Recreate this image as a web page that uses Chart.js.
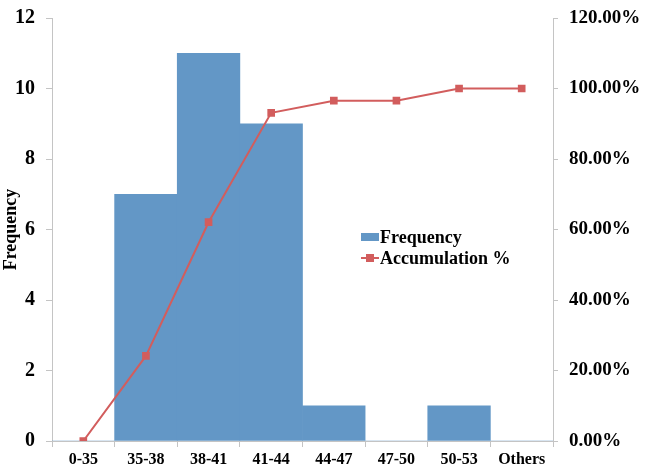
<!DOCTYPE html>
<html>
<head>
<meta charset="utf-8">
<script src="https://cdn.jsdelivr.net/npm/chart.js@4/dist/chart.umd.min.js"></script>
<style>
  html, body { margin: 0; padding: 0; background: #fff; }
  #wrap { width: 645px; height: 469px; position: relative; }
</style>
</head>
<body>
<div id="wrap"><canvas id="myChart"></canvas></div>
<script>
const categories = ["0-35", "35-38", "38-41", "41-44", "44-47", "47-50", "50-53", "Others"];
const frequency = [0, 7, 11, 9, 1, 0, 1, 0];
const accumulation = [0, 24.14, 62.07, 93.10, 96.55, 96.55, 100, 100];
const leftTicks = [0, 2, 4, 6, 8, 10, 12];
const rightTicks = [0, 20, 40, 60, 80, 100, 120];

const serif = "'Liberation Serif', 'Times New Roman', serif";
const axisColor = "#c4c4c4";

// legend sits inside the plot, so draw it by hand
const insideLegend = {
  id: "insideLegend",
  afterDraw(chart) {
    const ctx = chart.ctx;
    const x = 361;
    const y = 237;
    ctx.save();
    ctx.font = "bold 18px " + serif;
    ctx.textBaseline = "middle";

    ctx.fillStyle = chart.data.datasets[0].backgroundColor;
    ctx.fillRect(x, y - 4, 18, 8);
    ctx.fillStyle = "#000";
    ctx.fillText(chart.data.datasets[0].label, x + 19, y + 1);

    const y2 = y + 21;
    ctx.strokeStyle = chart.data.datasets[1].borderColor;
    ctx.lineWidth = 2;
    ctx.beginPath();
    ctx.moveTo(x, y2);
    ctx.lineTo(x + 18, y2);
    ctx.stroke();
    ctx.fillStyle = chart.data.datasets[1].borderColor;
    ctx.fillRect(x + 5, y2 - 4, 8, 8);
    ctx.fillStyle = "#000";
    ctx.fillText(chart.data.datasets[1].label, x + 19, y2 + 1);
    ctx.restore();
  },
};

const data = {
  labels: categories,
  datasets: [
    {
      type: "bar",
      label: "Frequency",
      data: frequency,
      backgroundColor: "#6397c6",
      barPercentage: 1,
      categoryPercentage: 1,
      yAxisID: "y",
      order: 2,
    },
    {
      type: "line",
      label: "Accumulation %",
      data: accumulation,
      borderColor: "#d25d5d",
      backgroundColor: "#d25d5d",
      borderWidth: 2,
      pointStyle: "rect",
      pointRadius: 4,
      tension: 0,
      yAxisID: "y1",
      order: 1,
    },
  ],
};

const config = {
  data: data,
  options: {
    responsive: false,
    animation: false,
    layout: { padding: { top: 18, right: 0, left: 2, bottom: 0 } },
    plugins: {
      legend: { display: false },
      tooltip: { enabled: false },
    },
    scales: {
      x: {
        offset: true,
        afterFit(axis) { axis.height = 28; },
        grid: { display: true, drawOnChartArea: false, drawTicks: true, tickLength: 6, color: axisColor, offset: true },
        border: { color: axisColor },
        ticks: { color: "#000", font: { family: serif, weight: "bold", size: 16, lineHeight: 1 }, padding: 5, maxRotation: 0 },
      },
      y: {
        position: "left",
        min: 0,
        max: 12,
        afterFit(axis) { axis.width = 50; axis.paddingTop = 0; axis.paddingBottom = 0; },
        afterBuildTicks(axis) { axis.ticks = leftTicks.map(v => ({ value: v })); },
        grid: { drawOnChartArea: false, tickLength: 6, color: axisColor },
        border: { color: axisColor },
        ticks: { color: "#000", font: { family: serif, weight: "bold", size: 20 }, padding: 11 },
        title: { display: true, text: "Frequency", color: "#000", font: { family: serif, weight: "bold", size: 18, lineHeight: 1 }, padding: 0 },
      },
      y1: {
        position: "right",
        min: 0,
        max: 120,
        afterFit(axis) { axis.width = 92; axis.paddingTop = 0; axis.paddingBottom = 0; },
        afterBuildTicks(axis) { axis.ticks = rightTicks.map(v => ({ value: v })); },
        grid: { drawOnChartArea: false, tickLength: 5, color: axisColor },
        border: { color: axisColor },
        ticks: {
          color: "#000",
          font: { family: serif, weight: "bold", size: 19 },
          padding: 11,
          callback: v => v.toFixed(2) + "%",
        },
      },
    },
  },
  plugins: [insideLegend],
};

const canvas = document.getElementById("myChart");
canvas.width = 645;
canvas.height = 469;
const myChart = new Chart(canvas, config);
</script>
</body>
</html>
